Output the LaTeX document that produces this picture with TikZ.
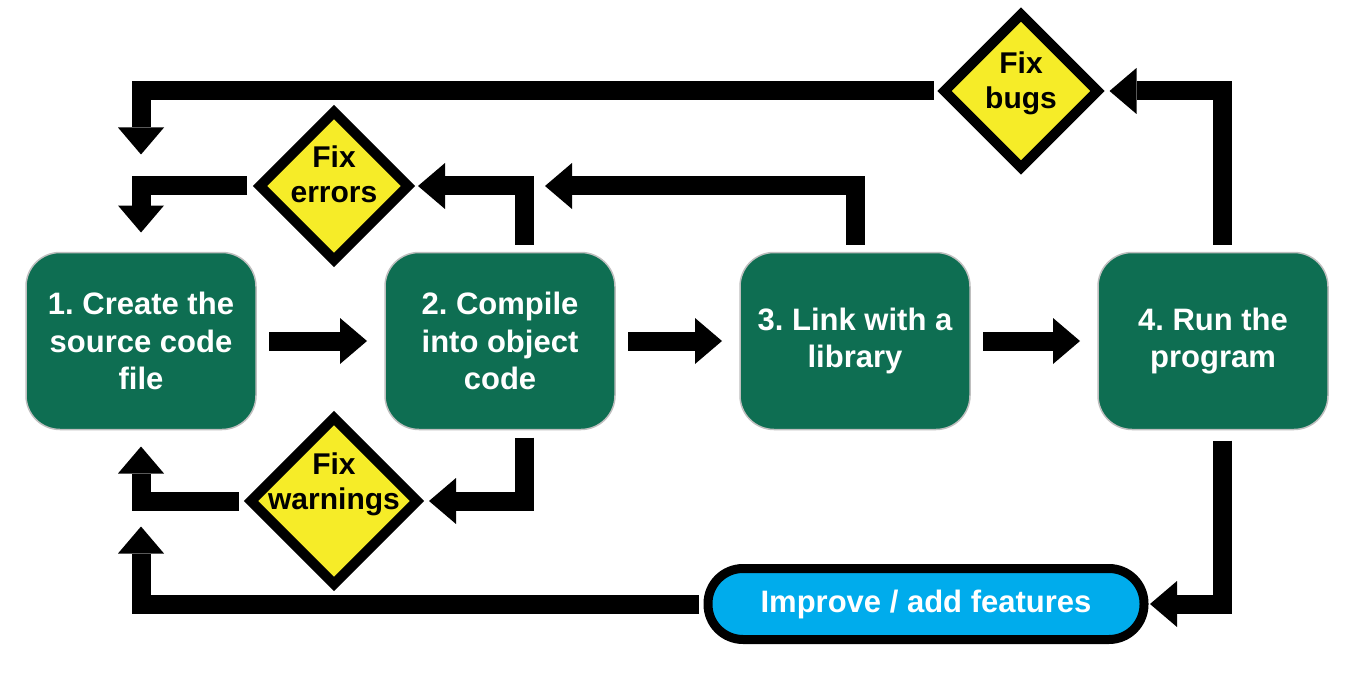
\documentclass[tikz,border=0pt]{standalone}
\usepackage{fontspec}
\setmainfont{Liberation Sans}
\usepackage{tikz}
\usetikzlibrary{shapes.geometric, arrows.meta, positioning}
\frenchspacing
\definecolor{taskgreen}{RGB}{14,110,82}
\definecolor{fixyellow}{RGB}{246,236,40}
\definecolor{improveblue}{RGB}{0,172,236}
\tikzset{
    task/.style={
        rectangle,
        rounded corners=34pt,
        fill=taskgreen,
        draw=gray!50,
        line width=1.5pt,
        minimum width=230pt,
        minimum height=177pt,
        outer sep=0pt,
        align=center,
        text=white,
        font=\fontsize{31}{37.5}\selectfont\bfseries
    },
    fix/.style={
        diamond,
        fill=fixyellow,
        draw=black,
        line width=10pt,
        inner sep=0pt,
        outer sep=0pt
    },
    fixtext/.style={
        align=center,
        text=black,
        font=\fontsize{30}{35}\selectfont\bfseries
    },
    improve/.style={
        rectangle,
        rounded corners=35pt,
        fill=improveblue,
        draw=black,
        line width=9pt,
        minimum width=436pt,
        minimum height=71pt,
        outer sep=0pt,
        text=white,
        font=\fontsize{31}{37.5}\selectfont\bfseries
    },
    flow/.style={
        draw,
        line width=19pt,
        line join=miter,
        -{Triangle[width=46pt,length=27pt,line width=0pt]}
    }
}

\begin{document}
\begin{tikzpicture}[x=1pt,y=-1pt]
	\useasboundingbox (0,0) rectangle (1350,682);
	\node[task] at (141, 341) (b1) {1. Create the\\source code\\file};
	\node[task] at (500, 341) (b2) {2. Compile\\into object\\code};
	\node[task] at (855, 341) (b3) {3. Link with a\\library};
	\node[task] at (1213, 341) (b4) {4. Run the\\program};
	\node[fix, minimum width=148pt, minimum height=148pt,
		label={[fixtext,yshift=12pt]center:Fix\\errors}] at (334, 186) (errs) {};
	\node[fix, minimum width=166pt, minimum height=166pt,
		label={[fixtext,yshift=17pt]center:Fix\\warnings}] at (334, 501) (warn) {};
	\node[fix, minimum width=153pt, minimum height=153pt,
		label={[fixtext,yshift=8pt]center:Fix\\bugs}] at (1021, 91) (bugs) {};
	\node[improve] at (926, 604) (impr) {Improve / add features};
	\coordinate (lnk) at (545, 186);
	\draw[flow, shorten <=13pt, shorten >=18pt] (b1) -- (b2);
	\draw[flow, shorten <=13pt, shorten >=18pt] (b2) -- (b3);
	\draw[flow, shorten <=13pt, shorten >=18pt] (b3) -- (b4);
	\draw[flow, shorten <=8pt, shorten >=10pt] ([xshift=24pt]b2.north) |- (errs);
	\draw[flow, shorten <=8pt] (b3.north) |- (lnk);
	\draw[flow, shorten <=13pt, shorten >=20pt] (errs) -| (b1);
	\draw[flow, shorten <=11pt, shorten >=98pt] (bugs) -| (b1);
	\draw[flow, shorten <=8pt, shorten >=12pt] ([xshift=9pt]b4.north) |- (bugs);
	\draw[flow, shorten <=8pt, shorten >=12pt] ([xshift=24pt]b2.south) |- (warn);
	\draw[flow, shorten <=12pt, shorten >=17pt] (warn) -| (b1);
	\draw[flow, shorten <=11pt, shorten >=6pt] ([xshift=9pt]b4.south) |- (impr);
	\draw[flow, shorten <=9pt, shorten >=97pt] (impr) -| (b1);
\end{tikzpicture}
\end{document}
